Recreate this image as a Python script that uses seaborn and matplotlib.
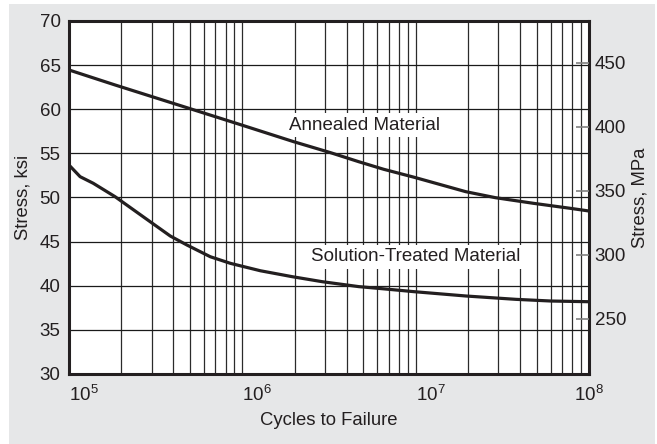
import numpy as np
import pandas as pd
import matplotlib
matplotlib.use('Agg')
import matplotlib.pyplot as plt
import seaborn as sns
from matplotlib.patches import Rectangle
from matplotlib.ticker import FixedLocator, NullFormatter

sns.set_theme(style='white')
plt.rcParams['font.family'] = ['Liberation Sans', 'DejaVu Sans']
plt.rcParams['mathtext.fontset'] = 'custom'
plt.rcParams['mathtext.rm'] = 'Liberation Sans'
plt.rcParams['mathtext.it'] = 'Liberation Sans'

### values (log10 of cycles, stress in ksi)
annealed_logN = [5.0, 5.266, 5.68, 5.998, 6.297, 6.509, 6.671, 6.815, 6.99,
                 7.289, 7.46, 7.68, 7.89, 8.0]
annealed_ksi = [64.45, 62.75, 60.18, 58.2, 56.32, 55.08, 54.06, 53.2, 52.3,
                50.66, 49.98, 49.34, 48.78, 48.47]

solution_logN = [5.0, 5.064, 5.14, 5.266, 5.468, 5.584, 5.68, 5.815, 5.931, 6.104,
                 6.287, 6.461, 6.672, 6.827, 6.99, 7.289, 7.578, 7.78, 8.0]
solution_ksi = [53.68, 52.36, 51.61, 50.09, 47.26, 45.64, 44.62, 43.29, 42.54, 41.7,
                41.03, 40.46, 39.9, 39.63, 39.33, 38.84, 38.46, 38.27, 38.19]

ksi_ticks = [30, 35, 40, 45, 50, 55, 60, 65, 70]
mpa_ticks = [250, 300, 350, 400, 450]
decades = [1e5, 1e6, 1e7, 1e8]
decade_labels = ['$10^{5}$', '$10^{6}$', '$10^{7}$', '$10^{8}$']
KSI_TO_MPA = 6.89476

ink = '#231f20'

df = pd.concat([
    pd.DataFrame({'cycles': np.power(10.0, annealed_logN), 'stress': annealed_ksi, 'material': 'Annealed'}),
    pd.DataFrame({'cycles': np.power(10.0, solution_logN), 'stress': solution_ksi, 'material': 'Solution-Treated'}),
])

fig = plt.figure(figsize=(6.57, 4.44), dpi=100)
fig.patch.set_facecolor('white')
fig.patches.append(Rectangle((9 / 657, 0), 646 / 657, 440 / 444, transform=fig.transFigure,
                             facecolor='#e6e7e8', edgecolor='none', zorder=-10))

ax = fig.add_axes([69 / 657, 1 - 374 / 444, 520 / 657, 353 / 444])
ax.set_facecolor('white')

sns.lineplot(data=df, x='cycles', y='stress', hue='material', palette=[ink, ink],
             linewidth=2.3, legend=False, ax=ax, zorder=3, estimator=None, sort=True)

ax.set_xscale('log')
ax.set_xlim(1e5, 1e8)
ax.set_ylim(30, 70)

### grid lines: every 1..9 in each decade, every 5 ksi
minor_pos = [m * d for d in decades[:-1] for m in range(2, 10)]
ax.xaxis.set_minor_locator(FixedLocator(minor_pos))
ax.xaxis.set_minor_formatter(NullFormatter())
ax.set_xticks(decades)
ax.set_xticklabels(decade_labels)
ax.set_yticks(ksi_ticks)
ax.grid(True, which='both', axis='x', color='#2b2b2b', linewidth=0.9, zorder=1)
ax.grid(True, which='major', axis='y', color='#1a1a1a', linewidth=0.9, zorder=1)
ax.set_axisbelow(True)

ax.tick_params(axis='both', which='both', length=0, labelsize=13.5, colors=ink)
ax.tick_params(axis='x', pad=8)
ax.tick_params(axis='y', pad=6)
# the decade labels sit a bit right of their grid lines in the original
for lab in ax.get_xticklabels()[:-1]:
    lab.set_horizontalalignment('left')

for s in ax.spines.values():
    s.set_visible(True)
    s.set_color(ink)
    s.set_linewidth(2.2)

ax.set_xlabel('Cycles to Failure', fontsize=13.3, color=ink, labelpad=5)
ax.set_ylabel('Stress, ksi', fontsize=13.3, color=ink, labelpad=6)

### right hand axis in MPa
ax2 = ax.twinx()
ax2.set_ylim(30 * KSI_TO_MPA, 70 * KSI_TO_MPA)
ax2.set_yticks(mpa_ticks)
ax2.tick_params(axis='y', direction='in', length=9.5, width=1.2, color='#808080',
                labelsize=13.5, labelcolor=ink, pad=4)
ax2.grid(False)
for s in ax2.spines.values():
    s.set_visible(False)
ax2.set_ylabel('Stress, MPa', fontsize=13.3, color=ink, rotation=90, labelpad=4)

### curve labels with white box hiding the grid
box = dict(facecolor='white', edgecolor='none', pad=2.5)
ax.text(10 ** 6.705, 58.2, 'Annealed Material', fontsize=13.5, color=ink,
        ha='center', va='center', bbox=box, zorder=4)
ax.text(1e7, 43.3, 'Solution-Treated Material', fontsize=13.5, color=ink,
        ha='center', va='center', bbox=box, zorder=4)

fig.savefig('out.png', dpi=100, facecolor=fig.get_facecolor())
